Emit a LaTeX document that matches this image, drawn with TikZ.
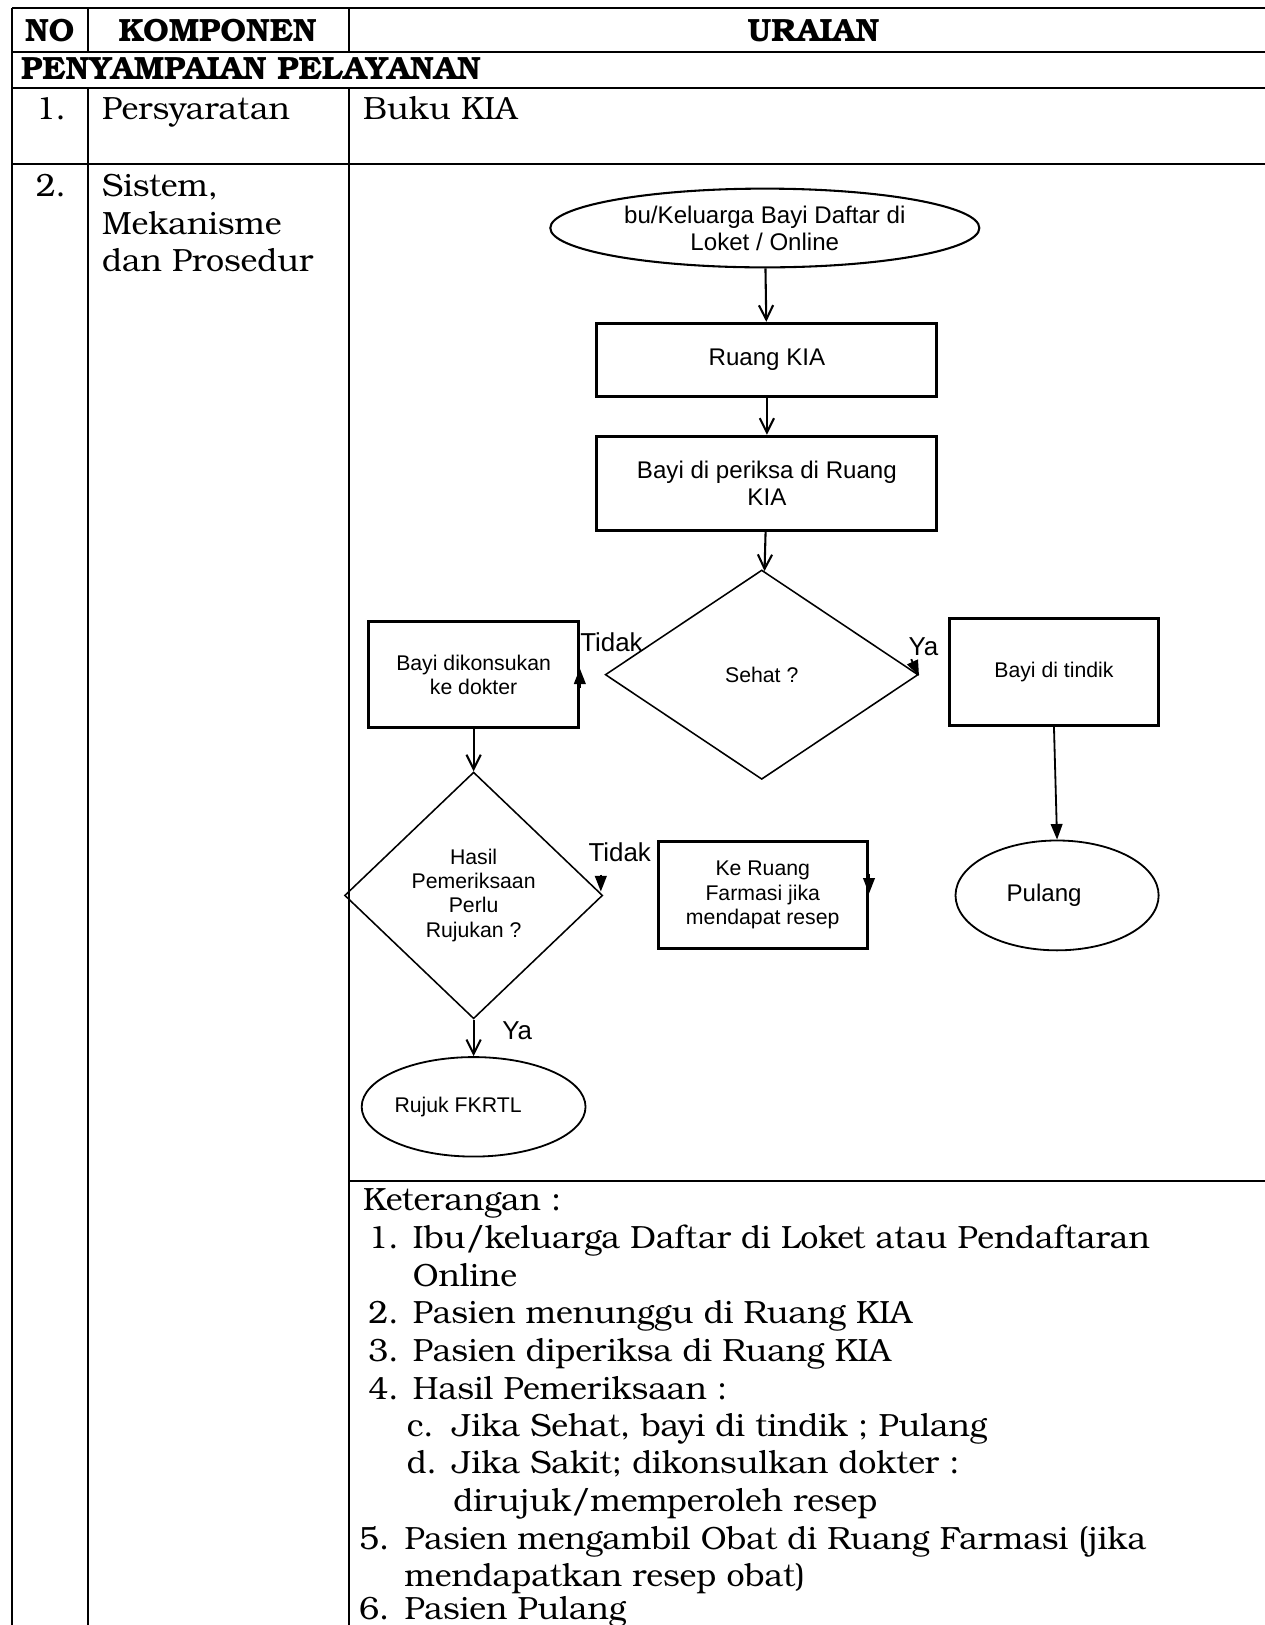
\documentclass[tikz,border=0pt]{standalone}
\usepackage{fontspec}
\setmainfont{texgyrebonum}[Extension=.otf, UprightFont=*-regular, BoldFont=*-bold]
\newfontfamily\arialfont{Liberation Sans}
\usetikzlibrary{arrows.meta,shapes.geometric}

\begin{document}
\begin{tikzpicture}[
  x=0.4pt, y=-0.4pt,
  grid/.style={line width=0.8pt},
  proc/.style={
    draw, line width=1.2pt, align=center, inner sep=0pt,
    font=\arialfont\fontsize{8.2}{9.3}\selectfont
  },
  term/.style={
    draw, ellipse, line width=0.7pt, align=center, inner sep=0pt,
    font=\arialfont\fontsize{8.2}{9.3}\selectfont
  },
  cek/.style={
    draw, diamond, line width=0.6pt, align=center, inner sep=0pt,
    font=\arialfont\fontsize{8.2}{9.3}\selectfont
  },
  arr/.style={-{Straight Barb[length=5.5pt,width=5.5pt]}, line width=0.8pt},
  tip/.style={-{Triangle[length=6pt,width=4.5pt]}, line width=0.7pt},
  lbl/.style={inner sep=0pt, font=\arialfont\fontsize{10}{12}\selectfont},
  txt/.style={anchor=base west, inner sep=0pt, font=\fontsize{12.4}{14.5}\selectfont},
  hdr/.style={anchor=base, inner sep=0pt, font=\bfseries\fontsize{12.4}{14.5}\selectfont}
]
  \useasboundingbox (0,0) rectangle (1220,1568);
  % table
  \draw[grid] (12,8) -- (1230,8);
  \draw[grid] (12,50) -- (1230,50);
  \draw[grid] (12,85) -- (1230,85);
  \draw[grid] (12,158) -- (1230,158);
  \draw[grid] (337,1140) -- (1230,1140);
  \draw[grid] (12,8) -- (12,1580);
  \draw[grid] (85,8) -- (85,50);
  \draw[grid] (337,8) -- (337,50);
  \draw[grid] (85,85) -- (85,1580);
  \draw[grid] (337,85) -- (337,1580);
  \node[hdr] (hno) at (48,40) {NO};
  \node[hdr] (hkomp) at (210,40) {KOMPONEN};
  \node[hdr] (hurai) at (785,40) {URAIAN};
  \node[hdr, anchor=base west] (hpel) at (20,77) {PENYAMPAIAN PELAYANAN};
  \node[txt] (no1) at (34,115) {1.};
  \node[txt] (komp1) at (98,115) {Persyaratan};
  \node[txt] (urai1) at (350,115) {Buku KIA};
  \node[txt] (no2) at (34,190) {2.};
  \node[txt] (komp2) at (98,190) {Sistem,};
  \node[txt] (komp2b) at (98,226) {Mekanisme};
  \node[txt] (komp2c) at (98,262) {dan Prosedur};

  % flowchart
  \node[term, line width=0.8pt, minimum width=165.6pt, minimum height=30.4pt,
    font=\arialfont\fontsize{9.3}{10.4}\selectfont]
    (daftar) at (738,220) {bu/Keluarga Bayi Daftar di\\Loket / Online};
  \node[proc, minimum width=131.2pt, minimum height=28.4pt,
    font=\arialfont\fontsize{9.3}{10.4}\selectfont]
    (ruang) at (740,347.5) {Ruang KIA};
  \node[proc, minimum width=131.2pt, minimum height=36.4pt,
    font=\arialfont\fontsize{9.3}{10.4}\selectfont]
    (periksa) at (740,466.5) {Bayi di periksa di Ruang\\KIA};
  \node[cek, minimum width=120.8pt, minimum height=80.8pt] (sehat) at (735,651) {Sehat ?};
  \node[proc, minimum width=80.8pt, minimum height=40.8pt] (dok) at (457,651) {Bayi dikonsukan\\ke dokter};
  \node[proc, minimum width=80.8pt, minimum height=41.2pt] (tindik) at (1017,648.5) {Bayi di tindik};
  \node[term, minimum width=78.4pt, minimum height=42.4pt,
    font=\arialfont\fontsize{9.3}{10.4}\selectfont]
    (pulang) at (1020,864) {Pulang\hspace{10pt}};
  \node[cek, minimum width=99.6pt, minimum height=95.2pt] (hasil) at (457,864)
    {Hasil\\Pemeriksaan\\Perlu\\Rujukan ?};
  \node[proc, minimum width=80.8pt, minimum height=41.2pt] (farmasi) at (736,863.5)
    {Ke Ruang\\Farmasi jika\\mendapat resep};
  \node[term, minimum width=86.4pt, minimum height=38.4pt] (rujuk) at (457,1068) {Rujuk FKRTL\hspace{12pt}};

  \node[lbl] (tidak1) at (590,620) {Tidak};
  \node[lbl] (ya1) at (891,624) {Ya};
  \node[lbl] (tidak2) at (598,822) {Tidak};
  \node[lbl] (ya2) at (499,995) {Ya};

  \draw[arr] (daftar) -- (ruang);
  \draw[arr] (ruang) -- (periksa);
  \draw[arr] (periksa) -- (sehat);
  \draw[arr] (dok) -- (hasil);
  \draw[arr] (hasil) -- (rujuk);
  \draw[tip] (tindik.south) -- (pulang.north);
  \draw[tip] ([yshift=-5pt]dok.east) -- ([yshift=2.4pt]dok.east);
  \draw[tip] ([shift={(-3pt,6pt)}]sehat.east) -- ([yshift=-0.5pt]sehat.east);
  \draw[tip] ([shift={(-1pt,8pt)}]hasil.east) -- ([shift={(-1pt,1.5pt)}]hasil.east);
  \draw[tip] ([yshift=8pt]farmasi.east) -- ([yshift=0.5pt]farmasi.east);

  % keterangan
  \node[txt] (ket) at (350,1168) {Keterangan :};
  \node[txt] (k1) at (355,1205) {1.};
  \node[txt] (k1t) at (398,1205) {Ibu/keluarga Daftar di Loket atau Pendaftaran};
  \node[txt] (k1u) at (398,1241) {Online};
  \node[txt] (k2) at (355,1277) {2.};
  \node[txt] (k2t) at (398,1277) {Pasien menunggu di Ruang KIA};
  \node[txt] (k3) at (355,1314) {3.};
  \node[txt] (k3t) at (398,1314) {Pasien diperiksa di Ruang KIA};
  \node[txt] (k4) at (355,1350) {4.};
  \node[txt] (k4t) at (398,1350) {Hasil Pemeriksaan :};
  \node[txt] (kc) at (392,1386) {c.};
  \node[txt] (kct) at (436,1386) {Jika Sehat, bayi di tindik ; Pulang};
  \node[txt] (kd) at (392,1422) {d.};
  \node[txt] (kdt) at (436,1422) {Jika Sakit; dikonsulkan dokter :};
  \node[txt] (kdu) at (437,1458) {dirujuk/memperoleh resep};
  \node[txt] (k5) at (346,1495) {5.};
  \node[txt] (k5t) at (390,1495) {Pasien mengambil Obat di Ruang Farmasi (jika};
  \node[txt] (k5u) at (390,1531) {mendapatkan resep obat)};
  \node[txt] (k6) at (346,1563) {6.};
  \node[txt] (k6t) at (390,1563) {Pasien Pulang};
\end{tikzpicture}
\end{document}
